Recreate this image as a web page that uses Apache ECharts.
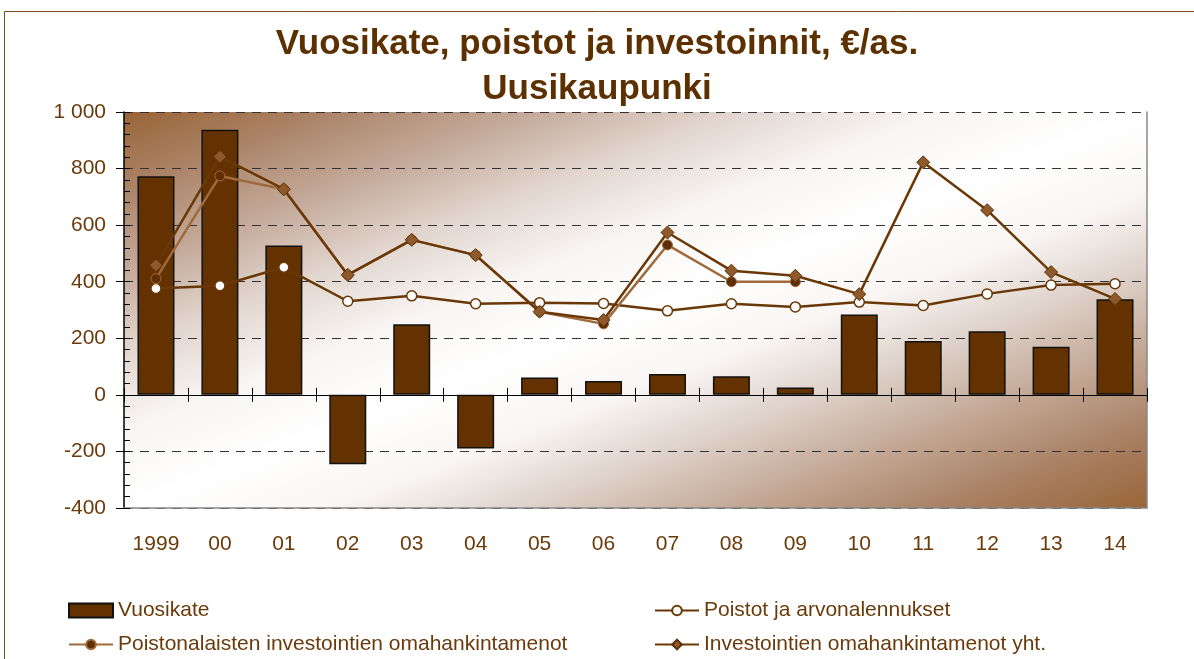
<!DOCTYPE html>
<html>
<head>
<meta charset="utf-8">
<script src="https://cdn.jsdelivr.net/npm/echarts@6/dist/echarts.min.js"></script>
<style>
  html, body { margin: 0; padding: 0; background: #fff; }
  #chart { width: 1194px; height: 659px; }
</style>
</head>
<body>
<div id="chart"></div>
<script>
// years on the x axis
const years = ['1999', '00', '01', '02', '03', '04', '05', '06', '07', '08', '09', '10', '11', '12', '13', '14']

// €/asukas
const vuosikate = [773, 937, 528, -245, 250, -190, 61, 49, 74, 66, 26, 284, 190, 225, 170, 338]
const poistot = [376, 386, 451, 331, 350, 322, 326, 323, 297, 322, 311, 328, 316, 357, 388, 393]
const poistonalaiset = [411, 774, 727, 424, 548, 494, 294, 251, 530, 400, 400, null, null, null, null, null]
const investoinnit = [458, 842, 727, 424, 548, 494, 294, 265, 574, 439, 421, 356, 822, 653, 434, 339]

const yTicks = [-400, -200, 0, 200, 400, 600, 800, 1000]

const chart = echarts.init(document.getElementById('chart'))

const font = 'Liberation Sans, Arial, sans-serif'
const textBrown = '#6b3a0a'
const dark = '#633200'
const lineDark = '#6a3806'
const lineLight = '#a06a3c'

const legendText = { fontFamily: font, fontSize: 21, color: textBrown }

// plot background: brown in the top-left and bottom-right corners,
// white band running along the other diagonal (like an Excel diagonal fill)
const plotBg = new echarts.graphic.LinearGradient(124, 112, 391, 801, [
  { offset: 0, color: '#9a6436' },
  { offset: 0.1, color: '#ab8468' },
  { offset: 0.2, color: '#c4aa9a' },
  { offset: 0.3, color: '#e2d6cf' },
  { offset: 0.4, color: '#f8f5f3' },
  { offset: 0.5, color: '#ffffff' },
  { offset: 0.6, color: '#f9f6f4' },
  { offset: 0.7, color: '#ddd0c8' },
  { offset: 0.8, color: '#c3a794' },
  { offset: 0.9, color: '#a98164' },
  { offset: 1, color: '#9a6538' }
], true)

const option = {
  animation: false,
  title: {
    text: 'Vuosikate, poistot ja investoinnit, €/as.\nUusikaupunki',
    left: 'center',
    top: 17,
    textStyle: {
      fontFamily: font,
      fontSize: 35,
      fontWeight: 'bold',
      color: '#5c3000',
      lineHeight: 45
    }
  },
  graphic: [{
    type: 'rect',
    shape: { x: 4.5, y: 11.5, width: 1200, height: 700 },
    style: { fill: 'none', stroke: '#7a4a1f', lineWidth: 1 },
    silent: true,
    z: -10
  }],
  legend: [
    {
      data: [{ name: 'Vuosikate', icon: 'rect' }], left: 63, top: 595, itemWidth: 44, itemHeight: 14, itemGap: 4,
      textStyle: legendText
    },
    {
      data: ['Poistot ja arvonalennukset'], left: 649, top: 595, itemWidth: 44, itemHeight: 12, itemGap: 4,
      textStyle: legendText
    },
    {
      data: ['Poistonalaisten investointien omahankintamenot'], left: 63, top: 629, itemWidth: 44, itemHeight: 12,
      textStyle: legendText
    },
    {
      data: ['Investointien omahankintamenot yht.'], left: 649, top: 629, itemWidth: 44, itemHeight: 12,
      textStyle: legendText
    }
  ],
  grid: {
    left: 124,
    right: 47,
    top: 112,
    bottom: 151,
    show: true,
    borderWidth: 0,
    backgroundColor: plotBg
  },
  xAxis: [
    {
      // labels under the plot, and the grey bottom edge
      type: 'category',
      data: years,
      axisLine: { show: true, onZero: false, lineStyle: { color: '#888', width: 1.5 } },
      axisTick: { show: false },
      axisLabel: { fontFamily: font, fontSize: 21, color: textBrown, margin: 26 }
    },
    {
      // zero line, ticks going up
      type: 'category',
      data: years,
      position: 'bottom',
      axisLine: { show: true, onZero: true, lineStyle: { color: '#000', width: 1 } },
      axisTick: { show: true, inside: true, length: 7, lineStyle: { color: '#000' } },
      axisLabel: { show: false }
    },
    {
      // zero line, ticks going down
      type: 'category',
      data: years,
      position: 'bottom',
      axisLine: { show: true, onZero: true, lineStyle: { color: '#000', width: 1 } },
      axisTick: { show: true, length: 7, lineStyle: { color: '#000' } },
      axisLabel: { show: false }
    }
  ],
  yAxis: [
    {
      type: 'value',
      min: -400,
      max: 1000,
      interval: 200,
      axisLine: { show: true, lineStyle: { color: '#000', width: 1.5 } },
      axisTick: { show: true, length: 8, lineStyle: { color: '#000' } },
      axisLabel: {
        fontFamily: font, fontSize: 21, color: textBrown, margin: 18,
        formatter: v => yTicks.includes(v) ? (v === 1000 ? '1 000' : String(v)) : ''
      },
      splitLine: {
        show: true,
        lineStyle: { color: '#333', type: [9, 7], width: 1 }
      }
    },
    {
      // inner ticks, major and minor
      type: 'value',
      position: 'left',
      min: -400,
      max: 1000,
      interval: 200,
      axisLine: { show: false },
      axisTick: { show: true, inside: true, length: 6, lineStyle: { color: '#000' } },
      minorTick: { show: true, splitNumber: 5, length: 6, lineStyle: { color: '#000' } },
      axisLabel: { show: false },
      splitLine: { show: false }
    },
    {
      // grey right edge
      type: 'value',
      position: 'right',
      min: -400,
      max: 1000,
      interval: 200,
      axisLine: { show: true, lineStyle: { color: '#888', width: 1.5 } },
      axisTick: { show: false },
      axisLabel: { show: false },
      splitLine: { show: false }
    }
  ],
  series: [
    {
      name: 'Vuosikate',
      type: 'bar',
      data: vuosikate,
      barWidth: 37,
      itemStyle: { color: dark, borderColor: '#111', borderWidth: 1.5 },
      z: 2
    },
    {
      name: 'Poistot ja arvonalennukset',
      type: 'line',
      data: poistot,
      symbol: 'circle',
      symbolSize: 10,
      lineStyle: { color: lineDark, width: 2.5 },
      itemStyle: { color: '#fff', borderColor: lineDark, borderWidth: 1.5 },
      z: 3
    },
    {
      name: 'Poistonalaisten investointien omahankintamenot',
      type: 'line',
      data: poistonalaiset,
      symbol: 'circle',
      symbolSize: 10,
      lineStyle: { color: lineLight, width: 2.5 },
      itemStyle: { color: '#5e2e04', borderColor: lineLight, borderWidth: 1 },
      z: 4
    },
    {
      name: 'Investointien omahankintamenot yht.',
      type: 'line',
      data: investoinnit,
      symbol: 'diamond',
      symbolSize: 13,
      lineStyle: { color: lineDark, width: 2.5 },
      itemStyle: { color: '#8e5a2c', borderColor: '#5e3208', borderWidth: 1 },
      z: 5
    }
  ]
}

chart.setOption(option)
</script>
</body>
</html>
